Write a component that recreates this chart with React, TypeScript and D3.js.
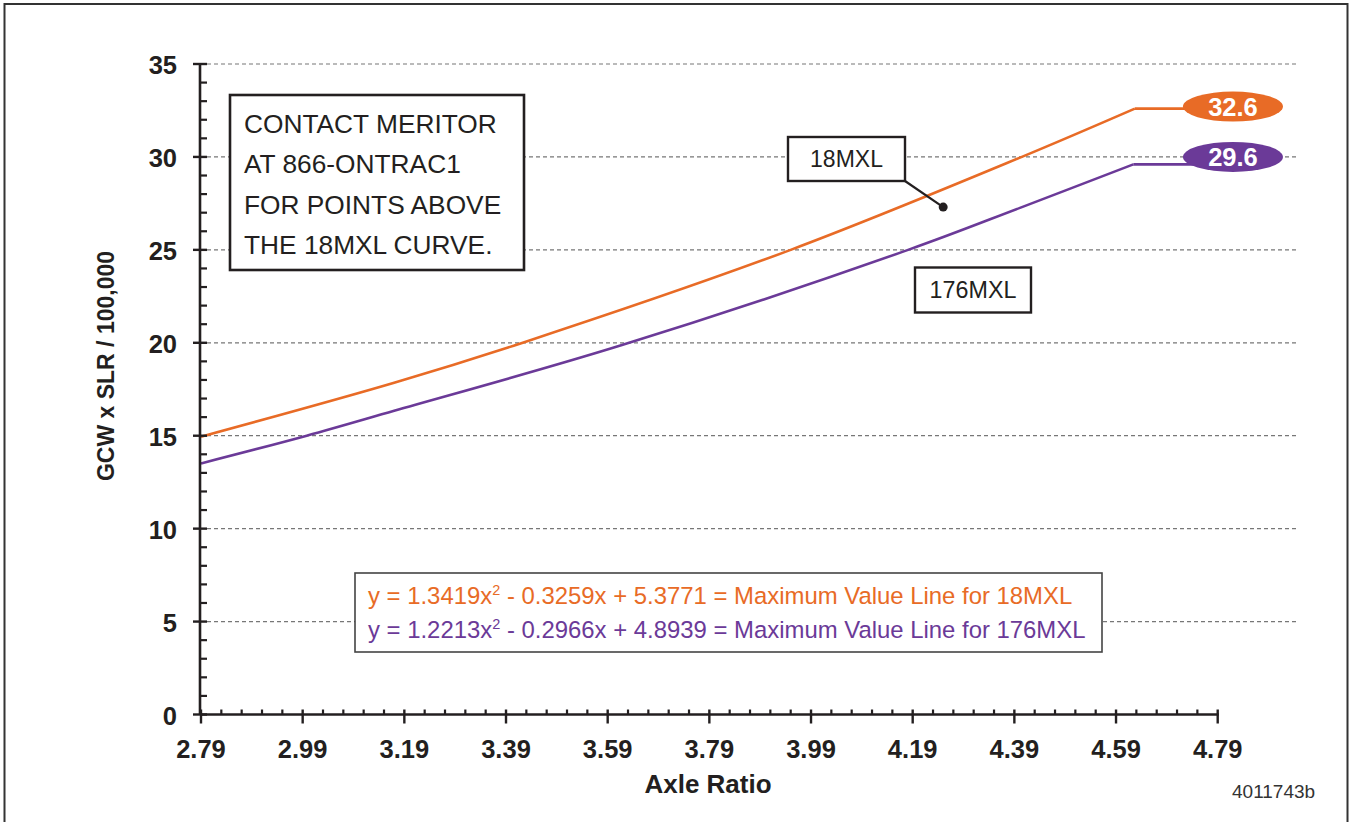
import React from "react";
import * as d3 from "d3";

// ---- data ----
const xTicks = [2.79, 2.99, 3.19, 3.39, 3.59, 3.79, 3.99, 4.19, 4.39, 4.59, 4.79];
const yTicks = [0, 5, 10, 15, 20, 25, 30, 35];
const gridValues = [5, 10, 15, 20, 25, 30, 35];

const orangeX = [2.79, 3.17, 3.42, 3.95, 4.40, 4.627];
const orangeY = [14.95, 17.85, 19.98, 25.0, 29.95, 32.6];
const purpleX = [2.79, 2.998, 3.17, 3.615, 4.181, 4.401, 4.624];
const purpleY = [13.51, 15.0, 16.34, 19.85, 25.0, 27.26, 29.6];

const orangeEnd = 32.6;
const purpleEnd = 29.6;
const flatEndX = 4.82;

const orangeEq = ["y = 1.3419x", "2", " - 0.3259x + 5.3771 = Maximum Value Line for 18MXL"];
const purpleEq = ["y = 1.2213x", "2", " - 0.2966x + 4.8939 = Maximum Value Line for 176MXL"];
const noteLines = ["CONTACT MERITOR", "AT 866-ONTRAC1", "FOR POINTS ABOVE", "THE 18MXL CURVE."];

const ORANGE = "#E86B26";
const PURPLE = "#6B3A98";
const INK = "#231F20";
const FONT = "'Liberation Sans', Arial, Helvetica, sans-serif";

export default function App() {
  const x = d3.scaleLinear().domain([2.79, 4.79]).range([201, 1217.7]);
  const y = d3.scaleLinear().domain([0, 35]).range([714.5, 64]);

  const minorX = d3.range(0, 51).map((i) => 2.79 + i * 0.04).filter((_, i) => i % 5 !== 0);
  const minorY = d3.range(0, 36).filter((v) => v % 5 !== 0);

  const curve = d3
    .line<[number, number]>()
    .x((d) => x(d[0]))
    .y((d) => y(d[1]))
    .curve(d3.curveCatmullRom.alpha(0.5));
  const straight = d3
    .line<[number, number]>()
    .x((d) => x(d[0]))
    .y((d) => y(d[1]));

  const oPts = orangeX.map((v, i) => [v, orangeY[i]] as [number, number]);
  const pPts = purpleX.map((v, i) => [v, purpleY[i]] as [number, number]);
  const oLast = oPts[oPts.length - 1];
  const pLast = pPts[pPts.length - 1];

  const gridRight = 1297;

  return (
    <svg
      width={1352}
      height={822}
      style={{ position: "absolute", left: 0, top: 0, background: "#fff" }}
      fontFamily={FONT}
    >
      <rect x={0} y={0} width={1352} height={822} fill="#fff" />
      <rect x={4.5} y={4} width={1343} height={840} fill="none" stroke="#333" strokeWidth={2} />

      {/* grid */}
      {gridValues.map((v) => (
        <line
          key={"g" + v}
          x1={207}
          x2={gridRight}
          y1={y(v)}
          y2={y(v)}
          stroke="#777"
          strokeWidth={1.2}
          strokeDasharray="4 3"
        />
      ))}

      {/* curves */}
      <path d={curve(oPts) || ""} fill="none" stroke={ORANGE} strokeWidth={2.6} />
      <path d={straight([oLast, [flatEndX, orangeEnd]]) || ""} fill="none" stroke={ORANGE} strokeWidth={2.6} />
      <path d={curve(pPts) || ""} fill="none" stroke={PURPLE} strokeWidth={2.6} />
      <path d={straight([pLast, [flatEndX, purpleEnd]]) || ""} fill="none" stroke={PURPLE} strokeWidth={2.6} />

      {/* end labels */}
      <ellipse cx={x(flatEndX)} cy={y(orangeEnd) - 2} rx={50} ry={15} fill={ORANGE} />
      <text x={x(flatEndX)} y={y(orangeEnd) - 2} textAnchor="middle" dominantBaseline="central" fill="#fff" fontWeight="bold" fontSize={25.5}>
        {orangeEnd.toFixed(1)}
      </text>
      <ellipse cx={x(flatEndX)} cy={y(30)} rx={50} ry={15} fill={PURPLE} />
      <text x={x(flatEndX)} y={y(30)} textAnchor="middle" dominantBaseline="central" fill="#fff" fontWeight="bold" fontSize={25.5}>
        {purpleEnd.toFixed(1)}
      </text>

      {/* axes */}
      <line x1={200} x2={200} y1={y(35)} y2={y(0)} stroke={INK} strokeWidth={2.6} />
      <line x1={200} x2={x(4.79) + 1} y1={y(0)} y2={y(0)} stroke={INK} strokeWidth={2.6} />
      {yTicks.map((v) => (
        <g key={"yt" + v}>
          <line x1={193} x2={207} y1={y(v)} y2={y(v)} stroke={INK} strokeWidth={2.4} />
          <text x={177} y={y(v) + 1} textAnchor="end" dominantBaseline="central" fontWeight="bold" fontSize={25.5} fill={INK}>
            {v}
          </text>
        </g>
      ))}
      {minorY.map((v) => (
        <line key={"ym" + v} x1={200} x2={207} y1={y(v)} y2={y(v)} stroke={INK} strokeWidth={2.2} />
      ))}
      {xTicks.map((v) => (
        <g key={"xt" + v}>
          <line x1={x(v)} x2={x(v)} y1={y(0) - 5} y2={y(0) + 9} stroke={INK} strokeWidth={2.4} />
          <text x={x(v)} y={758} textAnchor="middle" fontWeight="bold" fontSize={25.5} fill={INK}>
            {v.toFixed(2)}
          </text>
        </g>
      ))}
      {minorX.map((v, i) => (
        <line key={"xm" + i} x1={x(v)} x2={x(v)} y1={y(0) - 5} y2={y(0)} stroke={INK} strokeWidth={2.2} />
      ))}

      {/* axis titles */}
      <text x={708} y={793} textAnchor="middle" fontWeight="bold" fontSize={26} fill={INK}>
        Axle Ratio
      </text>
      <text
        transform="translate(106,366) rotate(-90)"
        textAnchor="middle"
        dominantBaseline="central"
        fontWeight="bold"
        fontSize={23}
        fill={INK}
      >
        GCW x SLR / 100,000
      </text>

      {/* note box */}
      <rect x={230} y={95} width={294} height={175} fill="#fff" stroke={INK} strokeWidth={2.6} />
      {noteLines.map((t, i) => (
        <text key={t} x={244} y={133 + i * 40.3} fontSize={26.3} fill={INK}>
          {t}
        </text>
      ))}

      {/* 18MXL callout */}
      <line x1={905} y1={181} x2={x(4.25)} y2={y(27.3)} stroke={INK} strokeWidth={2.2} />
      <circle cx={x(4.25)} cy={y(27.3)} r={4.5} fill={INK} />
      <rect x={788} y={137} width={117} height={44} fill="#fff" stroke={INK} strokeWidth={2.4} />
      <text x={846.5} y={159} textAnchor="middle" dominantBaseline="central" fontSize={23} fill={INK}>
        18MXL
      </text>

      {/* 176MXL label */}
      <rect x={915} y={267.5} width={116} height={45} fill="#fff" stroke={INK} strokeWidth={2.4} />
      <text x={973} y={290} textAnchor="middle" dominantBaseline="central" fontSize={23.3} fill={INK}>
        176MXL
      </text>

      {/* equations box */}
      <rect x={355} y={573} width={747} height={79} fill="#fff" stroke="#444" strokeWidth={1.6} />
      <text x={368} y={604} fontSize={23.9} fill={ORANGE}>
        {orangeEq[0]}
        <tspan dy={-9} fontSize={14.5}>{orangeEq[1]}</tspan>
        <tspan dy={9}>{orangeEq[2]}</tspan>
      </text>
      <text x={368} y={638} fontSize={23.9} fill={PURPLE}>
        {purpleEq[0]}
        <tspan dy={-9} fontSize={14.5}>{purpleEq[1]}</tspan>
        <tspan dy={9}>{purpleEq[2]}</tspan>
      </text>

      <text x={1232} y={798} fontSize={19} fill="#333">
        4011743b
      </text>
    </svg>
  );
}
